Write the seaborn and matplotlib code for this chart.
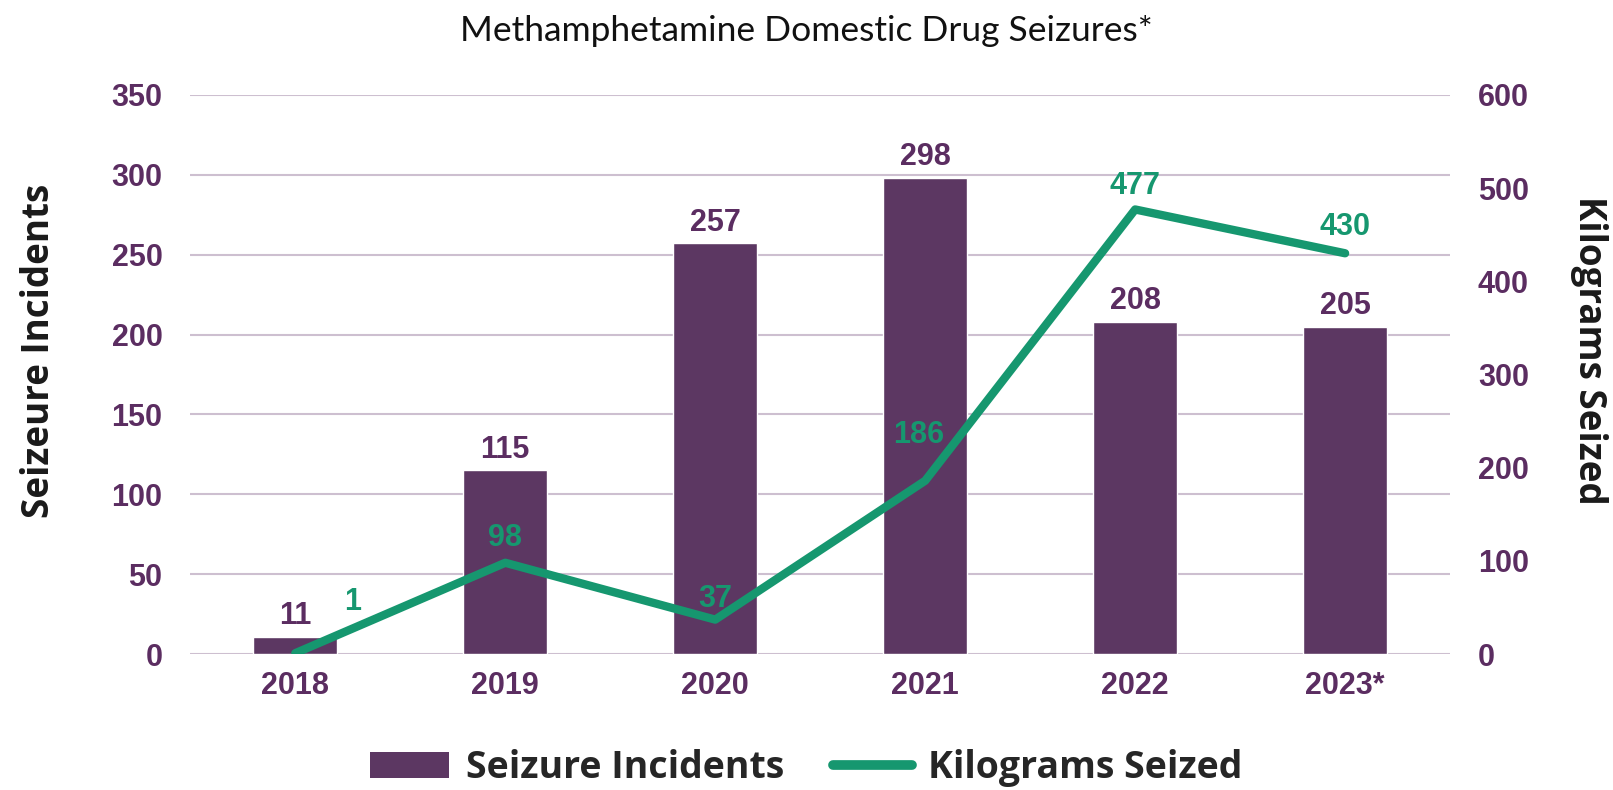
import numpy as np
import pandas as pd
import seaborn as sns
import matplotlib.pyplot as plt
from matplotlib.patches import Patch
from matplotlib.lines import Line2D

# data
years = ['2018', '2019', '2020', '2021', '2022', '2023*']
incidents = [11, 115, 257, 298, 208, 205]
kilograms = [1, 98, 37, 186, 477, 430]

# label offsets for the line values (points, to label centre)
kg_label_dx = [41, 0, 0, -5, 0, 0]
kg_label_dy = [37, 18, 15, 33, 17, 19]

purple = '#5C3762'
tick_purple = '#5B2D61'
green = '#16976F'
grid_col = '#CDBFD0'

sns.set_theme(style='white')
plt.rcParams['font.family'] = ['Liberation Sans', 'DejaVu Sans']

df = pd.DataFrame({'year': years, 'incidents': incidents, 'kg': kilograms})

fig = plt.figure(figsize=(16.13, 7.9), dpi=100)
ax = fig.add_axes([0.118, 0.172, 0.781, 0.708])
ax2 = ax.twinx()

sns.barplot(data=df, x='year', y='incidents', color=purple, saturation=1,
            width=0.4, ax=ax, zorder=2)
sns.lineplot(x=np.arange(len(years)), y=kilograms, color=green, linewidth=6,
             ax=ax2, zorder=3)

ax.set_ylim(0, 350)
ax2.set_ylim(0, 600)
ax.set_xlim(-0.5, len(years) - 0.5)
ax.set_yticks(range(0, 351, 50))
ax2.set_yticks(range(0, 601, 100))
ax.grid(axis='y', color=grid_col, linewidth=1.5, zorder=0)
ax.set_axisbelow(True)

for a in (ax, ax2):
    for s in a.spines.values():
        s.set_visible(False)
    a.tick_params(length=0, labelsize=22, labelcolor=tick_purple)
    for lab in a.get_yticklabels() + a.get_xticklabels():
        lab.set_fontweight('bold')
ax.tick_params(axis='y', pad=20)
ax2.tick_params(axis='y', pad=20)
ax.tick_params(axis='x', pad=12)

ax.set_xlabel('')
ax.set_ylabel('Seizeure Incidents', family='Open Sans', fontweight='bold',
              fontsize=26.5, color='#1a1a1a')
ax2.set_ylabel('Kilograms Seized', family='Open Sans', fontweight='bold',
               fontsize=26.5, color='#1a1a1a', rotation=270)
ax.yaxis.set_label_coords(-0.12, 0.543)
ax.yaxis.label.set_va('center')
ax2.yaxis.set_label_coords(1.11, 0.543)
ax2.yaxis.label.set_va('center')

# value labels
for i, v in enumerate(incidents):
    ax.annotate(str(v), (i, v), xytext=(0, 15), textcoords='offset points',
                ha='center', va='center', fontsize=22, fontweight='bold',
                color=tick_purple)
for i, v in enumerate(kilograms):
    ax2.annotate(str(v), (i, v), xytext=(kg_label_dx[i], kg_label_dy[i]),
                 textcoords='offset points', ha='center', va='center',
                 fontsize=22, fontweight='bold', color=green, zorder=4)

fig.text(0.5, 0.961, 'Methamphetamine Domestic Drug Seizures*', ha='center',
         va='center', fontsize=25.5, family='Lato', color='#111111')

handles = [Patch(facecolor=purple, edgecolor='none'),
           Line2D([0], [0], color=green, linewidth=7, solid_capstyle='round')]
fig.legend(handles, ['Seizure Incidents', 'Kilograms Seized'],
           loc='center', bbox_to_anchor=(0.5, 0.028), ncol=2, frameon=False,
           prop={'family': 'Open Sans', 'weight': 'bold', 'size': 27},
           handlelength=2.1, handleheight=0.7, columnspacing=1.3,
           handletextpad=0.45)

fig.savefig('out.png', dpi=100)
